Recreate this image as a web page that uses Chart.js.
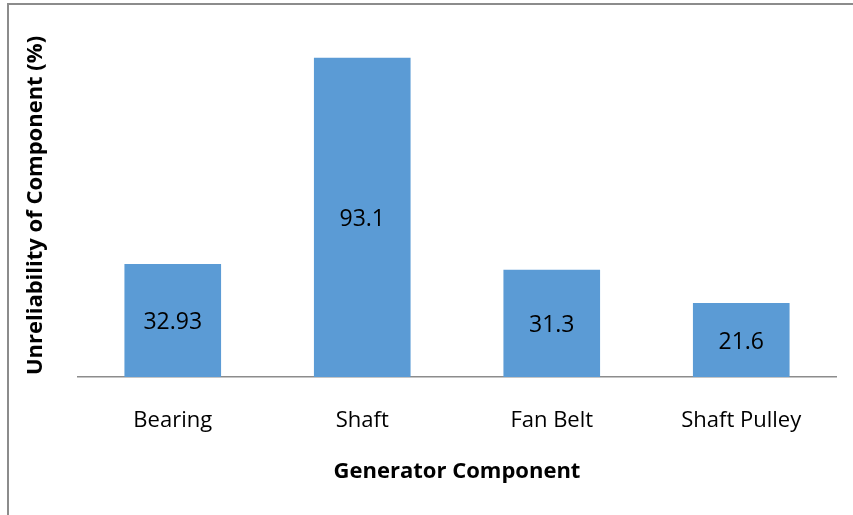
<!DOCTYPE html>
<html>
<head>
<meta charset="utf-8">
<script src="https://cdn.jsdelivr.net/npm/chart.js@4.4.1/dist/chart.umd.min.js"></script>
<style>
  html, body { margin: 0; padding: 0; background: #fff; overflow: hidden; }
  canvas { display: block; }
</style>
</head>
<body>
<canvas id="chart" width="853" height="515"></canvas>
<script>
const categories = ["Bearing", "Shaft", "Fan Belt", "Shaft Pulley"];
const unreliability = [32.93, 93.1, 31.3, 21.6];
const yMin = 0;
const yMax = 100;

const FONT = "'Open Sans', 'DejaVu Sans', sans-serif";

// grey chart-area frame, cut off at the right and bottom like the source
const frame = {
  id: "frame",
  afterDraw(chart) {
    const { ctx, width, height } = chart;
    ctx.save();
    ctx.fillStyle = "#8c8c8c";
    ctx.fillRect(7, 3, width - 7, 2);
    ctx.fillRect(7, 3, 2, height - 3);
    ctx.restore();
  },
};

// value labels in the middle of each bar
const barLabels = {
  id: "barLabels",
  afterDatasetsDraw(chart) {
    const { ctx } = chart;
    const meta = chart.getDatasetMeta(0);
    ctx.save();
    ctx.font = "23px " + FONT;
    ctx.fillStyle = "#000";
    ctx.textAlign = "center";
    ctx.textBaseline = "middle";
    meta.data.forEach((bar, i) => {
      ctx.fillText(String(unreliability[i]), bar.x, (bar.y + bar.base) / 2 + 2);
    });
    ctx.restore();
  },
};

new Chart(document.getElementById("chart"), {
  type: "bar",
  data: {
    labels: categories,
    datasets: [{
      data: unreliability,
      backgroundColor: "#5b9bd5",
      borderWidth: 0,
      categoryPercentage: 1,
      barPercentage: 0.51,
    }],
  },
  options: {
    responsive: false,
    animation: false,
    layout: { padding: { left: 23, right: 17, top: 34, bottom: 30 } },
    plugins: { legend: { display: false }, tooltip: { enabled: false } },
    scales: {
      x: {
        grid: { display: false, drawTicks: false },
        border: { display: true, color: "#8c8c8c", width: 1.5 },
        ticks: { color: "#000", font: { family: FONT, size: 22 }, padding: 31 },
        title: {
          display: true,
          text: "Generator Component",
          color: "#000",
          font: { family: FONT, size: 22, weight: "bold" },
          padding: { top: 0, bottom: 0 },
        },
        afterFit(scale) { scale.height = 108; },
      },
      y: {
        min: yMin,
        max: yMax,
        grid: { display: false, drawTicks: false },
        border: { display: false },
        ticks: { display: false },
        title: {
          display: true,
          text: "Unreliability of Component (%)",
          color: "#000",
          font: { family: FONT, size: 22, weight: "bold" },
          padding: { top: 0, bottom: 0 },
        },
        afterFit(scale) { scale.width = 55; },
      },
    },
  },
  plugins: [frame, barLabels],
});
</script>
</body>
</html>
